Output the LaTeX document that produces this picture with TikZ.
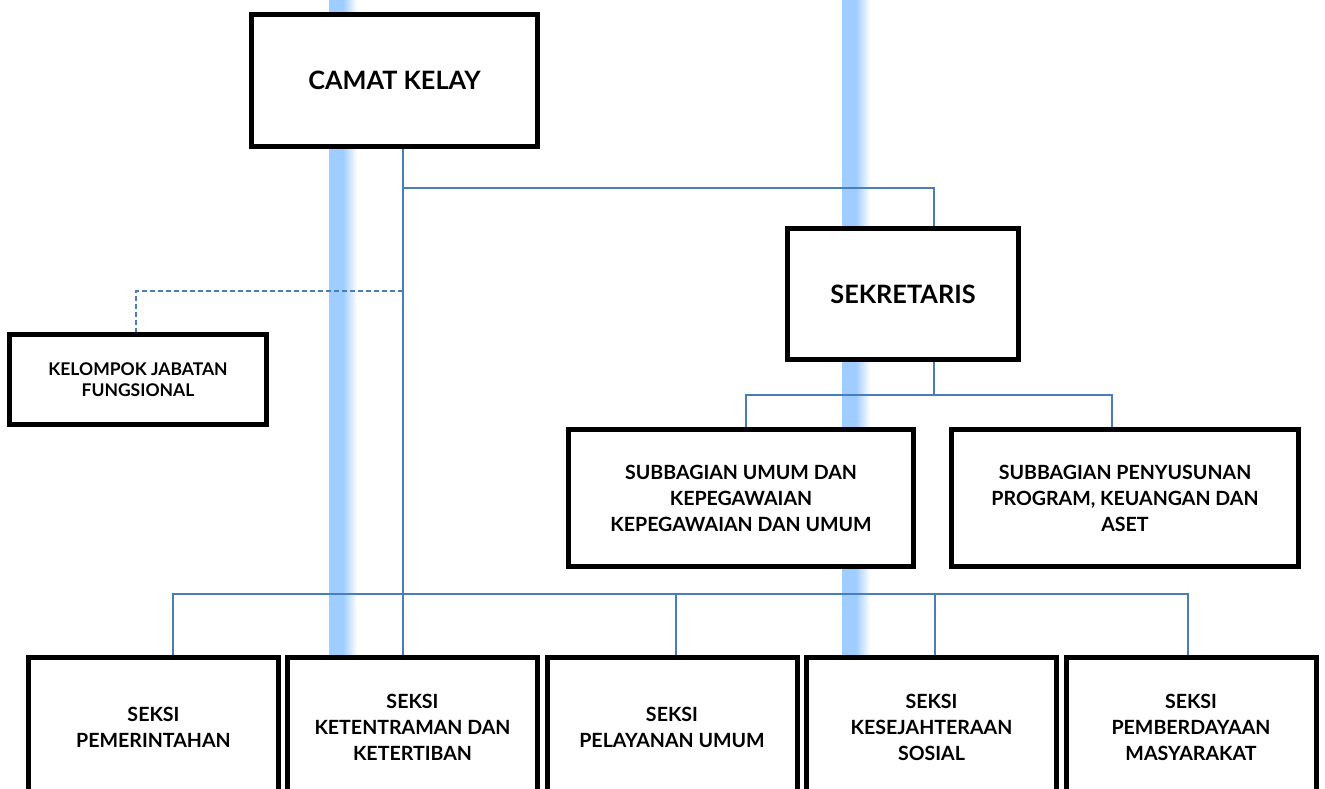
\documentclass[tikz,border=0pt]{standalone}
\usepackage{fontspec}
\setmainfont{Lato}
\usetikzlibrary{calc}
\definecolor{lineblue}{RGB}{74,126,187}
\definecolor{barblue}{RGB}{160,205,255}
\tikzset{
  box/.style={draw=black, line width=5pt, fill=white, align=center, inner sep=0pt, font=\bfseries},
  bigtxt/.style={font=\fontsize{25.3}{30}\selectfont\bfseries},
  midtxt/.style={font=\fontsize{19.6}{26}\selectfont\bfseries},
  smalltxt/.style={font=\fontsize{17.5}{21}\selectfont\bfseries},
  conn/.style={draw=lineblue, line width=1.4pt},
  dconn/.style={draw=lineblue, line width=1.4pt, dash pattern=on 5pt off 3pt},
}
\begin{document}
\begin{tikzpicture}[x=1pt,y=-1pt]
\useasboundingbox (0,0) rectangle (1325,789);
% background bars
\fill[barblue] (329,0) rectangle (343,789);
\shade[left color=barblue, right color=white] (343,0) rectangle (357,789);
\fill[barblue] (842,0) rectangle (856,789);
\shade[left color=barblue, right color=white] (856,0) rectangle (870,789);
% junction coordinates
\coordinate (j1) at (403,188);
\coordinate (j2) at (934,188);
\coordinate (jd) at (403,291);
\coordinate (jk) at (136,291);
\coordinate (js) at (934,395);
\coordinate (js1) at (746,395);
\coordinate (js2) at (1112,395);
\coordinate (jb) at (403,594);
\coordinate (jb1) at (173,594);
\coordinate (jb3) at (676,594);
\coordinate (jb4) at (935,594);
\coordinate (jb5) at (1188,594);
% boxes
\node[box, bigtxt, minimum width=286pt, minimum height=132pt] (camat) at (394.5,80.5) {CAMAT KELAY};
\node[box, bigtxt, minimum width=231pt, minimum height=131pt] (sek) at (903,294) {SEKRETARIS};
\node[box, smalltxt, minimum width=257pt, minimum height=90pt] (kel) at (138,379.5) {KELOMPOK JABATAN\\FUNGSIONAL};
\node[box, midtxt, minimum width=345pt, minimum height=137pt] (sub1) at (741,498) {SUBBAGIAN UMUM DAN\\KEPEGAWAIAN\\KEPEGAWAIAN DAN UMUM};
\node[box, midtxt, minimum width=347pt, minimum height=137pt] (sub2) at (1125,498) {SUBBAGIAN PENYUSUNAN\\PROGRAM, KEUANGAN DAN\\ASET};
\node[box, midtxt, minimum width=250pt, minimum height=139pt] (b1) at (153.5,727) {SEKSI\\PEMERINTAHAN};
\node[box, midtxt, minimum width=250pt, minimum height=139pt] (b2) at (412.5,727) {SEKSI\\KETENTRAMAN DAN\\KETERTIBAN};
\node[box, midtxt, minimum width=250pt, minimum height=139pt] (b3) at (672,727) {SEKSI\\PELAYANAN UMUM};
\node[box, midtxt, minimum width=250pt, minimum height=139pt] (b4) at (931.5,727) {SEKSI\\KESEJAHTERAAN\\SOSIAL};
\node[box, midtxt, minimum width=250pt, minimum height=139pt] (b5) at (1191,727) {SEKSI\\PEMBERDAYAAN\\MASYARAKAT};
% connectors
\draw[conn] (camat.south -| j1) -- (j1 |- b2.north);
\draw[conn] (j1) -- (j2) -- (j2 |- sek.north);
\draw[dconn] (jd) -- (jk) -- (jk |- kel.north);
\draw[conn] (sek.south -| js) -- (js);
\draw[conn] (js1 |- sub1.north) -- (js1) -- (js2) -- (js2 |- sub2.north);
\draw[conn] (jb1 |- b1.north) -- (jb1) -- (jb5) -- (jb5 |- b5.north);
\draw[conn] (jb3) -- (jb3 |- b3.north);
\draw[conn] (jb4) -- (jb4 |- b4.north);
\end{tikzpicture}
\end{document}
